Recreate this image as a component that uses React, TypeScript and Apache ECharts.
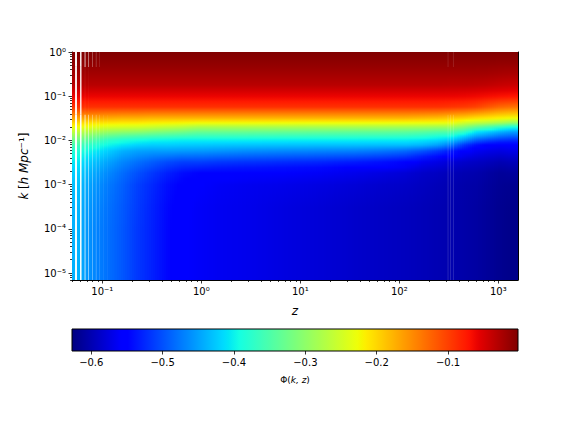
import React, { useEffect, useRef } from "react";
import * as echarts from "echarts";

const FONT = "DejaVu Sans";
const zMin = 0.0494;
const zMax = 1580;
const kMin = 6.95e-6;
const kMax = 1;
const phiMin = -0.627;
const phiMax = -0.002;

const xTickValues = [0.1, 1, 10, 100, 1000];
const yTickValues = [1e-5, 1e-4, 1e-3, 1e-2, 1e-1, 1];
const colorbarTicks = [-0.6, -0.5, -0.4, -0.3, -0.2, -0.1];

// column edges in z
const zEdges = [0.0494, 0.067, 0.095, 0.134, 0.19, 0.27, 0.38, 0.54, 0.77, 1.09, 1.95, 3.9, 10, 25, 50, 90, 144, 204, 290, 392, 518, 684, 904, 1194, 1580];
// row positions in k (top to bottom)
const kRows = [1, 0.563, 0.318, 0.179, 0.1, 0.057, 0.0321, 0.0248, 0.0201, 0.0155, 0.0126, 0.0102, 0.00787, 0.00575, 0.00325, 0.00183, 0.00098, 0.000311, 9.9e-5, 3.15e-5, 1e-5, 6.95e-6];

const top = [-0.002, -0.011, -0.021, -0.033, -0.06, -0.09];
const phi01 = [...top, -0.165, -0.202, -0.227, -0.265, -0.296, -0.327, -0.358, -0.383, -0.407, -0.422, -0.432, -0.438, -0.44, -0.44, -0.44, -0.44];
const phi02 = [...top, -0.168, -0.208, -0.236, -0.28, -0.315, -0.346, -0.377, -0.402, -0.428, -0.444, -0.454, -0.461, -0.465, -0.465, -0.465, -0.465];
const phi03 = [...top, -0.171, -0.211, -0.243, -0.293, -0.333, -0.371, -0.396, -0.421, -0.447, -0.464, -0.473, -0.478, -0.48, -0.48, -0.48, -0.48];
const phi04 = [...top, -0.174, -0.214, -0.246, -0.299, -0.343, -0.383, -0.408, -0.44, -0.466, -0.482, -0.49, -0.494, -0.496, -0.496, -0.496, -0.496];
const phi05 = [...top, -0.174, -0.214, -0.249, -0.302, -0.349, -0.39, -0.418, -0.449, -0.48, -0.5, -0.51, -0.513, -0.515, -0.515, -0.515, -0.515];
const phi06 = [...top, -0.177, -0.218, -0.255, -0.31, -0.354, -0.396, -0.422, -0.452, -0.492, -0.515, -0.525, -0.529, -0.53, -0.53, -0.53, -0.53];
const phi07 = [...top, -0.177, -0.22, -0.262, -0.316, -0.358, -0.398, -0.422, -0.452, -0.503, -0.53, -0.541, -0.545, -0.546, -0.546, -0.546, -0.546];
const phi08 = [...top, -0.177, -0.222, -0.268, -0.322, -0.362, -0.401, -0.424, -0.454, -0.51, -0.542, -0.552, -0.556, -0.557, -0.557, -0.557, -0.557];
const phi09 = [...top, -0.177, -0.225, -0.278, -0.331, -0.366, -0.401, -0.425, -0.455, -0.51, -0.548, -0.557, -0.561, -0.561, -0.561, -0.561, -0.561];
const phi10 = [...top, -0.177, -0.225, -0.278, -0.331, -0.366, -0.401, -0.427, -0.458, -0.515, -0.552, -0.562, -0.565, -0.565, -0.565, -0.565, -0.565];
const phi11 = [...top, -0.177, -0.225, -0.278, -0.331, -0.366, -0.401, -0.428, -0.462, -0.518, -0.555, -0.566, -0.568, -0.568, -0.568, -0.568, -0.568];
const phi12 = [...top, -0.177, -0.226, -0.279, -0.332, -0.367, -0.402, -0.429, -0.465, -0.522, -0.558, -0.569, -0.574, -0.574, -0.574, -0.574, -0.574];
const phi13 = [...top, -0.177, -0.227, -0.28, -0.333, -0.368, -0.402, -0.43, -0.468, -0.526, -0.562, -0.574, -0.58, -0.58, -0.58, -0.58, -0.58];
const phi14 = [...top, -0.177, -0.227, -0.28, -0.335, -0.368, -0.402, -0.43, -0.47, -0.533, -0.568, -0.58, -0.586, -0.586, -0.586, -0.586, -0.586];
const phi15 = [...top, -0.177, -0.227, -0.281, -0.335, -0.368, -0.403, -0.431, -0.476, -0.54, -0.574, -0.585, -0.59, -0.59, -0.59, -0.59, -0.59];
const phi16 = [...top, -0.177, -0.228, -0.283, -0.337, -0.37, -0.403, -0.431, -0.484, -0.548, -0.58, -0.588, -0.593, -0.593, -0.593, -0.593, -0.593];
const phi17 = [...top, -0.18, -0.229, -0.285, -0.341, -0.375, -0.407, -0.437, -0.497, -0.565, -0.587, -0.592, -0.596, -0.596, -0.596, -0.596, -0.596];
const phi18 = [...top, -0.183, -0.23, -0.288, -0.347, -0.383, -0.415, -0.45, -0.513, -0.572, -0.591, -0.596, -0.599, -0.599, -0.599, -0.599, -0.599];
const phi19 = [-0.002, -0.011, -0.021, -0.034, -0.06, -0.093, -0.19, -0.232, -0.288, -0.348, -0.39, -0.427, -0.475, -0.535, -0.58, -0.596, -0.6, -0.602, -0.602, -0.602, -0.602, -0.602];
const phi20 = [-0.002, -0.011, -0.021, -0.034, -0.061, -0.096, -0.196, -0.252, -0.308, -0.371, -0.415, -0.458, -0.515, -0.553, -0.586, -0.6, -0.604, -0.605, -0.605, -0.605, -0.605, -0.605];
const phi21 = [-0.002, -0.011, -0.021, -0.035, -0.063, -0.102, -0.205, -0.265, -0.333, -0.408, -0.446, -0.49, -0.54, -0.565, -0.59, -0.602, -0.606, -0.608, -0.608, -0.608, -0.608, -0.608];
const phi22 = [-0.002, -0.011, -0.022, -0.037, -0.066, -0.115, -0.211, -0.274, -0.352, -0.424, -0.461, -0.505, -0.552, -0.571, -0.594, -0.608, -0.611, -0.613, -0.613, -0.613, -0.613, -0.613];
const phi23 = [-0.002, -0.012, -0.024, -0.04, -0.069, -0.127, -0.218, -0.286, -0.371, -0.44, -0.477, -0.515, -0.558, -0.574, -0.599, -0.613, -0.616, -0.618, -0.618, -0.618, -0.618, -0.618];
const phi24 = [-0.002, -0.012, -0.025, -0.042, -0.071, -0.133, -0.224, -0.302, -0.39, -0.452, -0.486, -0.521, -0.555, -0.571, -0.596, -0.611, -0.618, -0.621, -0.622, -0.622, -0.622, -0.622];
const phiColumns = [phi01, phi02, phi03, phi04, phi05, phi06, phi07, phi08, phi09, phi10, phi11, phi12, phi13, phi14, phi15, phi16, phi17, phi18, phi19, phi20, phi21, phi22, phi23, phi24];

// faint missing-column stripes: left z, right z, opacity per k band
const stripeLeft = [0.053, 0.0595, 0.066, 0.0717, 0.0787, 0.0858, 0.0926, 0.102, 0.1116, 307, 325, 348];
const stripeRight = [0.0555, 0.0617, 0.0679, 0.0734, 0.0805, 0.0878, 0.0948, 0.104, 0.114, 314, 333, 356];
const stripeTopAlpha = [0.95, 0.9, 0.6, 0.45, 0.3, 0.2, 0.12, 0, 0, 0.12, 0, 0.12];
const stripeMidAlpha = [0.9, 0.85, 0.05, 0.03, 0, 0, 0, 0, 0, 0, 0, 0];
const stripeLowAlpha = [0.95, 0.95, 0.6, 0.5, 0.35, 0.25, 0.15, 0.08, 0.05, 0.15, 0.15, 0.15];
const stripeBands = [1, 0.46, 0.038, 6.95e-6];

const SUP: Record<string, string> = { "-": "\u207b", "0": "\u2070", "1": "\u00b9", "2": "\u00b2", "3": "\u00b3", "4": "\u2074", "5": "\u2075" };
const powerLabel = (v: number) => "10" + String(Math.round(Math.log10(v))).split("").map((c) => SUP[c]).join("");

function jet(t: number): string {
  const c = (x: number) => Math.round(255 * Math.max(0, Math.min(1, x)));
  const r = t < 0.35 ? 0 : t < 0.66 ? (t - 0.35) / 0.31 : t < 0.89 ? 1 : 1 - ((t - 0.89) / 0.11) * 0.5;
  const g = t < 0.125 ? 0 : t < 0.375 ? (t - 0.125) / 0.25 : t < 0.64 ? 1 : t < 0.91 ? 1 - (t - 0.64) / 0.27 : 0;
  const b = t < 0.11 ? 0.5 + (t / 0.11) * 0.5 : t < 0.34 ? 1 : t < 0.65 ? 1 - (t - 0.34) / 0.31 : 0;
  return `rgb(${c(r)},${c(g)},${c(b)})`;
}
const phiColor = (v: number) => jet((v - phiMin) / (phiMax - phiMin));

function minorTicks(lo: number, hi: number): number[] {
  const out: number[] = [];
  for (let e = Math.floor(Math.log10(lo)); e <= Math.ceil(Math.log10(hi)); e++) {
    for (let m = 2; m <= 9; m++) {
      const v = m * Math.pow(10, e);
      if (v >= lo && v <= hi) out.push(v);
    }
  }
  return out;
}

const textStyle = { fontFamily: FONT, fontSize: 10, color: "#000" };

function buildOption() {
  const columnData = phiColumns.map((_, i) => [zEdges[i], zEdges[i + 1], kRows[0], kRows[kRows.length - 1], i]);
  const stripeData: number[][] = [];
  stripeLeft.forEach((l, i) => {
    [stripeTopAlpha[i], stripeMidAlpha[i], stripeLowAlpha[i]].forEach((a, b) => {
      if (a > 0) stripeData.push([l, stripeRight[i], stripeBands[b], stripeBands[b + 1], a]);
    });
  });
  const logX = { type: "log" as const, min: zMin, max: zMax, gridIndex: 0, splitLine: { show: false } };
  const logY = { type: "log" as const, min: kMin, max: kMax, gridIndex: 0, splitLine: { show: false } };
  const line = { show: true, onZero: false, lineStyle: { color: "#000", width: 1 } };
  const tick = (length: number, customValues: number[]) => ({
    show: true, length, customValues, lineStyle: { color: "#000", width: 0.8 },
  });
  return {
    animation: false,
    backgroundColor: "#fff",
    grid: [
      { left: 72, right: 58, top: 52, bottom: 152, show: false, containLabel: false },
      { left: 72, right: 58, top: 329, bottom: 81, show: true, backgroundColor: "transparent", borderColor: "#000", borderWidth: 1, z: 8 },
    ],
    xAxis: [
      {
        ...logX, position: "bottom", axisLine: line, axisTick: tick(3.5, xTickValues),
        axisLabel: { ...textStyle, margin: 6, customValues: xTickValues, formatter: powerLabel },
        name: "z", nameLocation: "middle", nameGap: 25,
        nameTextStyle: { fontFamily: FONT, fontSize: 12, fontStyle: "italic", color: "#000" },
      },
      { ...logX, position: "bottom", axisLine: { show: false }, axisTick: tick(2, minorTicks(zMin, zMax)), axisLabel: { show: false } },
      { ...logX, position: "top", axisLine: line, axisTick: { show: false }, axisLabel: { show: false } },
      {
        type: "value", gridIndex: 1, min: phiMin, max: phiMax, position: "bottom", splitLine: { show: false },
        axisLine: { show: false }, axisTick: tick(3.5, colorbarTicks),
        axisLabel: { ...textStyle, margin: 6, customValues: colorbarTicks, formatter: (v: number) => "\u2212" + Math.abs(v).toFixed(1) },
        name: "{r|\u03a6(}{i|k, z}{r|)}", nameLocation: "middle", nameGap: 24,
        nameTextStyle: {
          rich: {
            r: { fontFamily: FONT, fontSize: 9, color: "#000" },
            i: { fontFamily: FONT, fontSize: 9, fontStyle: "italic", color: "#000" },
          },
        },
      },
    ],
    yAxis: [
      {
        ...logY, position: "left", axisLine: line, axisTick: tick(3.5, yTickValues),
        axisLabel: { ...textStyle, margin: 6, padding: [2, 0, 0, 0], customValues: yTickValues, formatter: powerLabel },
        name: "{i|k} {r|[}{i|h Mpc}{r|\u207b\u00b9]}", nameLocation: "middle", nameRotate: 90, nameGap: 42,
        nameTextStyle: {
          rich: {
            r: { fontFamily: FONT, fontSize: 12, color: "#000" },
            i: { fontFamily: FONT, fontSize: 12, fontStyle: "italic", color: "#000" },
          },
        },
      },
      { ...logY, position: "left", axisLine: { show: false }, axisTick: tick(2, minorTicks(kMin, kMax)), axisLabel: { show: false } },
      { ...logY, position: "right", axisLine: line, axisTick: { show: false }, axisLabel: { show: false } },
      { type: "value", gridIndex: 1, min: 0, max: 1, axisLine: { show: false }, axisTick: { show: false }, axisLabel: { show: false }, splitLine: { show: false } },
    ],
    series: [
      {
        type: "custom", coordinateSystem: "cartesian2d", xAxisIndex: 0, yAxisIndex: 0, clip: true,
        encode: { x: [0, 1], y: [2, 3] },
        data: columnData,
        renderItem: (_p: any, api: any) => {
          const i = api.value(4);
          const column = phiColumns[i];
          const [rawX0, yTop] = api.coord([api.value(0), api.value(2)]);
          const [rawX1, yBot] = api.coord([api.value(1), api.value(3)]);
          const x0 = Math.round(rawX0);
          const x1 = Math.round(rawX1);
          const ys = kRows.map((k) => api.coord([api.value(0), k])[1]);
          const px = (z: number) => api.coord([z, 1])[0];
          const centre = (j: number) => (px(zEdges[j]) + px(zEdges[j + 1])) / 2;
          const c = centre(i);
          const children: any[] = [];
          const strip = 2;
          for (let x = x0; x < x1; x += strip) {
            const w = Math.min(strip, x1 - x);
            const mid = x + w / 2;
            const j = mid < c ? Math.max(i - 1, 0) : Math.min(i + 1, phiColumns.length - 1);
            const f = j === i ? 0 : Math.abs(mid - c) / Math.abs(centre(j) - c);
            const shade = kRows.map((_, r) => column[r] + (phiColumns[j][r] - column[r]) * f);
            const stops: { offset: number; color: string }[] = [];
            const steps = 2;
            for (let r = 0; r < kRows.length - 1; r++) {
              for (let s = 0; s < steps; s++) {
                const g = s / steps;
                stops.push({
                  offset: (ys[r] + (ys[r + 1] - ys[r]) * g - yTop) / (yBot - yTop),
                  color: phiColor(shade[r] + (shade[r + 1] - shade[r]) * g),
                });
              }
            }
            stops.push({ offset: 1, color: phiColor(shade[shade.length - 1]) });
            children.push({
              type: "rect",
              shape: { x, y: yTop, width: w, height: yBot - yTop },
              style: { fill: new echarts.graphic.LinearGradient(0, 0, 0, 1, stops), stroke: "none" },
            });
          }
          return { type: "group", children };
        },
        z: 1,
      },
      {
        type: "custom", coordinateSystem: "cartesian2d", xAxisIndex: 0, yAxisIndex: 0, clip: true,
        encode: { x: [0, 1], y: [2, 3] },
        data: stripeData,
        renderItem: (_p: any, api: any) => {
          const [x0, yTop] = api.coord([api.value(0), api.value(2)]);
          const [x1, yBot] = api.coord([api.value(1), api.value(3)]);
          return {
            type: "rect",
            shape: { x: x0, y: yTop, width: x1 - x0, height: yBot - yTop },
            style: { fill: "#fff", opacity: api.value(4), stroke: "none" },
          };
        },
        z: 2,
      },
      {
        type: "custom", coordinateSystem: "cartesian2d", xAxisIndex: 3, yAxisIndex: 3, clip: true,
        encode: { x: [0, 1], y: [2, 3] },
        data: [[phiMin, phiMax, 0, 1]],
        renderItem: (_p: any, api: any) => {
          const [x0, y0] = api.coord([api.value(0), api.value(3)]);
          const [x1, y1] = api.coord([api.value(1), api.value(2)]);
          const n = 128;
          const stops = Array.from({ length: n + 1 }, (_, i) => ({ offset: i / n, color: jet(i / n) }));
          return {
            type: "rect",
            shape: { x: x0, y: y0, width: x1 - x0, height: y1 - y0 },
            style: { fill: new echarts.graphic.LinearGradient(0, 0, 1, 0, stops), stroke: "none" },
          };
        },
        z: 1,
      },
    ],
  };
}

export default function App() {
  const ref = useRef<HTMLDivElement>(null);
  useEffect(() => {
    const chart = echarts.init(ref.current!, undefined, { renderer: "svg" });
    chart.setOption(buildOption() as any);
    return () => chart.dispose();
  }, []);
  return <div ref={ref} style={{ position: "absolute", left: 0, top: 0, width: 576, height: 432 }} />;
}
